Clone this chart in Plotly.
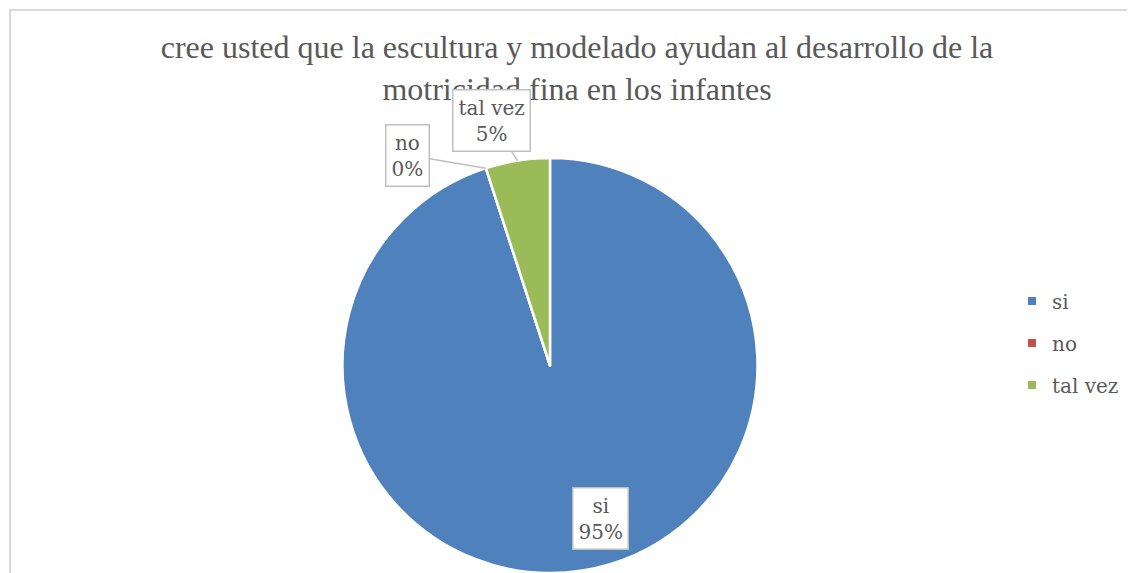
import math
import plotly.graph_objects as go

labels = ['si', 'no', 'tal vez']
values = [95, 0, 5]
colors = ['#4f81bd', '#c0504d', '#9bbb59']

title_text = 'cree usted que la escultura y modelado ayudan al desarrollo de la<br>motricidad fina en los infantes'

# page has an 8px body margin, so the figure is shrunk to fit the window
OFF = 8
W, H = 1135 - OFF, 573 - OFF
title_font = 'Liberation Serif'
label_font = 'DejaVu Serif'
grey = '#595959'

def px(x):
    # reference pixel x -> paper
    return (x - OFF) / W

def py(y):
    return 1 - (y - OFF) / H

# pie placement in reference pixels
pie_left, pie_right, pie_top = 341, 759, 158
R = min(pie_right - pie_left, H + OFF - pie_top) / 2
cx = (pie_left + pie_right) / 2
cy = H + OFF - R

fig = go.Figure()
fig.add_trace(go.Pie(
    labels=labels, values=values, sort=False, direction='clockwise',
    marker=dict(colors=colors, line=dict(color='white', width=2.5)),
    textinfo='none', hoverinfo='label+percent', showlegend=False,
    domain=dict(x=[px(pie_left), px(pie_right)], y=[0, py(pie_top)]),
))

# legend entries (dummy markers so the legend spacing matches)
for lab, col in zip(labels, colors):
    fig.add_trace(go.Scatter(x=[None], y=[None], mode='markers', name=lab, legendgroup=lab,
                             marker=dict(symbol='square', size=8, color=col)))

# data labels: tip computed from slice mid-angle, box offset in pixels
total = sum(values)
box_offsets = {'si': None, 'no': (-78, -13), 'tal vez': (-26, -40)}
start = 0
for lab, v in zip(labels, values):
    mid = (start + v / 2) / total * 2 * math.pi
    start += v
    pct = round(v / total * 100)
    txt = f'{lab}<br>{pct}%'
    ann = dict(text=txt, xref='paper', yref='paper', bgcolor='white', bordercolor='#bfbfbf',
               borderwidth=1.5, borderpad=5, font=dict(family=label_font, size=20, color=grey))
    if box_offsets[lab] is None:
        ann.update(x=px(600), y=py(550), showarrow=False)
    else:
        tx = cx + R * math.sin(mid)
        ty = cy - R * math.cos(mid)
        ax, ay = box_offsets[lab]
        ann.update(x=px(tx), y=py(ty), ax=ax, ay=ay, showarrow=True, arrowhead=0,
                   arrowcolor='#bfbfbf', arrowwidth=1.5)
    fig.add_annotation(**ann)

# chart frame
fig.add_shape(type='rect', xref='paper', yref='paper', x0=px(10), x1=1.05, y0=-0.05, y1=py(10),
              line=dict(color='#d9d9d9', width=2))

fig.update_layout(
    width=W, height=H, margin=dict(l=0, r=0, t=0, b=0),
    paper_bgcolor='white', plot_bgcolor='white',
    title=dict(text=title_text, x=px(577), xanchor='center', y=py(58), yanchor='top',
               font=dict(family=title_font, size=32, color=grey)),
    xaxis=dict(visible=False), yaxis=dict(visible=False),
    legend=dict(x=px(1012), xanchor='left', y=py(343), yanchor='middle', tracegroupgap=13,
                font=dict(family=label_font, size=20, color=grey)),
)

fig.write_html('out.html')
